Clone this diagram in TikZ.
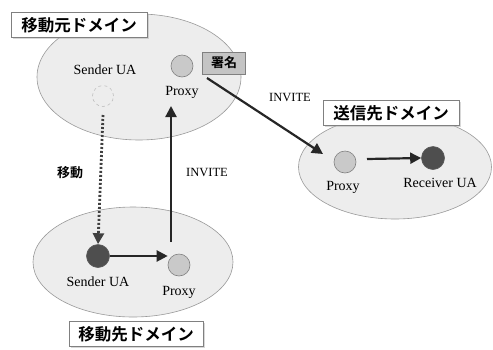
\documentclass[tikz,border=0pt]{standalone}
\usepackage{fontspec}
\setmainfont{Liberation Serif}
\newfontfamily\jpfont{Noto Sans CJK JP}[BoldFont={* Bold}]
\usetikzlibrary{arrows.meta,shadows,shapes.geometric}
\definecolor{ellfill}{HTML}{EDEDED}
\definecolor{ellline}{HTML}{9A9A9A}
\definecolor{lightnode}{HTML}{C9C9C9}
\definecolor{darknode}{HTML}{4E4E4E}
\definecolor{signfill}{HTML}{C4C4C4}
\tikzset{
  domainell/.style={draw=ellline, fill=ellfill, line width=0.6pt, ellipse},
  dlabel/.style={draw=gray, fill=white, line width=0.8pt, font=\jpfont\bfseries\fontsize{16.5}{17}\selectfont, inner xsep=4pt, minimum height=25pt, drop shadow={shadow xshift=1.5pt, shadow yshift=-1.5pt, fill=gray!60}},
  lnode/.style={circle, draw=gray, fill=lightnode, line width=0.6pt, minimum size=22pt, inner sep=0pt},
  dnode/.style={circle, draw=gray!70!black, fill=darknode, line width=0.6pt, minimum size=23pt, inner sep=0pt},
  ghost/.style={circle, draw=gray!50, dashed, line width=0.6pt, minimum size=21pt, inner sep=0pt},
  txt/.style={font=\fontsize{14}{14}\selectfont, inner sep=1pt},
  arr/.style={-{Triangle[length=11pt,width=11pt]}, line width=2.2pt, draw=black!85, fill=black!85},
  dotarr/.style={-{Triangle[length=11pt,width=11pt]}, line width=2.8pt, dash pattern=on 2pt off 2pt, draw=black!75},
}
\begin{document}
\begin{tikzpicture}[x=1pt,y=-1pt]
\useasboundingbox (0,0) rectangle (493,349);
\fill[white] (0,0) rectangle (493,349);
% domains
\node[domainell, minimum width=204pt, minimum height=126pt] (topdom) at (139,77) {};
\node[domainell, minimum width=200pt, minimum height=110pt] (botdom) at (133,262) {};
\node[domainell, minimum width=193pt, minimum height=104pt] (rdom) at (395,167) {};
% labels
\node[dlabel, minimum width=136pt] (toplab) at (79,25) {移動元ドメイン};
\node[dlabel, minimum width=134pt] (botlab) at (136,334) {移動先ドメイン};
\node[dlabel, minimum width=136pt] (rlab) at (391,113) {送信先ドメイン};
% top domain
\node[txt] (suatop) at (105,70) {Sender UA};
\node[ghost] (ghost) at (103,96) {};
\node[lnode] (ptop) at (182,66) {};
\node[txt] (ptoptxt) at (182,92) {Proxy};
\node[draw=gray, fill=signfill, line width=0.8pt, font=\jpfont\bfseries\fontsize{13}{13}\selectfont, minimum width=43pt, minimum height=22pt, inner sep=0pt] (sign) at (224,63) {署名};
% bottom domain
\node[dnode] (suab) at (98,256) {};
\node[txt] (suabtxt) at (98,282) {Sender UA};
\node[lnode] (pbot) at (179,265) {};
\node[txt] (pbottxt) at (179,292) {Proxy};
% right domain
\node[lnode] (pr) at (345,162) {};
\node[txt] (prtxt) at (343,187) {Proxy};
\node[dnode] (rua) at (433,158) {};
\node[txt] (ruatxt) at (440,183) {Receiver UA};
% coordinates for connector ends
\coordinate (vbot) at (171,242);
\coordinate (vtop) at (171,106);
\coordinate (dstart) at (207,78);
\coordinate (dend) at (323,154);
\coordinate (gs) at (103,115);
\coordinate (ps) at (367,159);
% connectors
\draw[dotarr] (gs) -- (suab.north);
\draw[arr] (vbot) -- (vtop);
\draw[arr] (suab) -- (pbot.west |- suab);
\draw[arr] (dstart) -- (dend);
\draw[arr] (ps) -- (rua.west);
% edge labels
\node[font=\jpfont\bfseries\fontsize{13}{13}\selectfont] (move) at (70,173) {移動};
\node[font=\fontsize{12.5}{13}\selectfont] (inv1) at (207,172) {INVITE};
\node[font=\fontsize{12.5}{13}\selectfont] (inv2) at (290,97) {INVITE};
\end{tikzpicture}
\end{document}
